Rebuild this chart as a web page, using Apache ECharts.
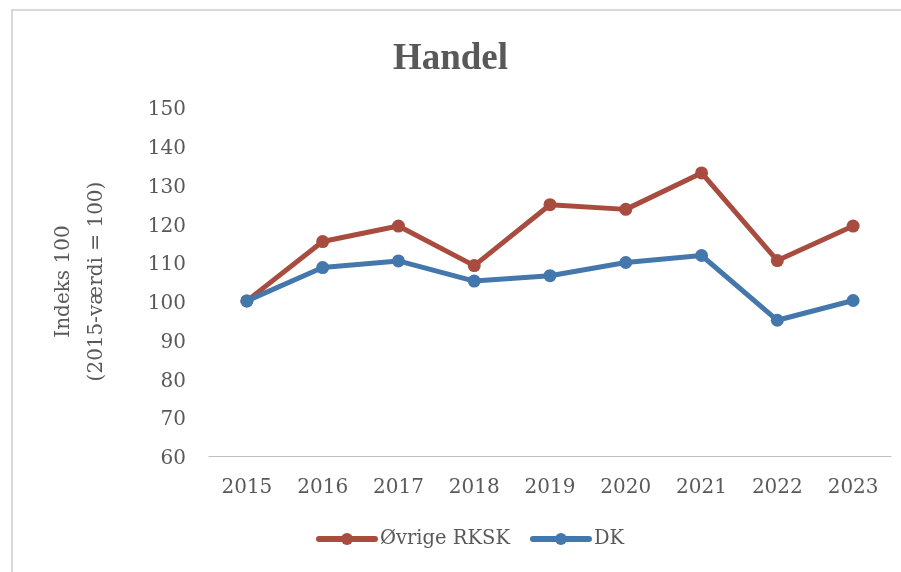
<!DOCTYPE html>
<html><head><meta charset="utf-8">
<script src="https://cdn.jsdelivr.net/npm/echarts@6/dist/echarts.min.js"></script>
<style>html,body{margin:0;padding:0;background:#fff}#c{width:901px;height:572px}</style>
</head><body><div id="c"></div>
<script>
const categories = ['2015','2016','2017','2018','2019','2020','2021','2022','2023'];
const ovrigeRKSK = [100, 115.3, 119.3, 109.1, 124.8, 123.6, 133.0, 110.4, 119.3];
const dk = [100, 108.6, 110.3, 105.1, 106.5, 109.9, 111.7, 95.0, 100.1];
const seriesNames = ['Øvrige RKSK', 'DK'];
const titleText = 'Handel';
const yAxisName = 'Indeks 100\n(2015-værdi = 100)';

const chart = echarts.init(document.getElementById('c'), null, {renderer:'canvas'});
const txt = '#595959';
chart.setOption({
  animation:false,
  backgroundColor:'#fff',
  graphic:[{type:'rect', shape:{x:12,y:10,width:1000,height:700}, style:{fill:'none', stroke:'#d9d9d9', lineWidth:2}, silent:true, z:-1}],
  title:{text:titleText, left:'center', top:36, textStyle:{fontFamily:'Liberation Serif', fontWeight:'bold', fontSize:37, color:txt}},
  grid:{left:209, right:10, top:107, bottom:116, containLabel:false},
  legend:{bottom:18, left:311, itemWidth:56, itemHeight:15, itemGap:20,
    lineStyle:{width:6, cap:'round'},
    textStyle:{fontFamily:'DejaVu Serif', fontSize:19.5, color:txt}, data:seriesNames},
  xAxis:{type:'category', data:categories, boundaryGap:true,
    axisLine:{lineStyle:{color:'#bfbfbf', width:1}}, axisTick:{show:false},
    axisLabel:{fontFamily:'DejaVu Serif', fontSize:20, color:txt, margin:22}},
  yAxis:{type:'value', min:60, max:150, interval:10,
    name:yAxisName, nameLocation:'middle', nameRotate:90, nameGap:96,
    nameTextStyle:{fontFamily:'DejaVu Serif', fontSize:20, color:txt, lineHeight:33},
    axisLine:{show:false}, axisTick:{show:false}, splitLine:{show:false},
    axisLabel:{fontFamily:'DejaVu Serif', fontSize:20, color:txt, margin:23,
      formatter:'{a|{value}}',
      rich:{a:{fontFamily:'DejaVu Serif', fontSize:20, color:txt, padding:[6,0,0,0]}}}},
  series:[
    {name:seriesNames[0], type:'line', data:ovrigeRKSK, symbol:'circle', symbolSize:13,
      lineStyle:{width:5, color:'#A84C3F'}, itemStyle:{color:'#A84C3F'}},
    {name:seriesNames[1], type:'line', data:dk, symbol:'circle', symbolSize:13,
      lineStyle:{width:5, color:'#4478AC'}, itemStyle:{color:'#4478AC'}}
  ]
});
</script></body></html>
